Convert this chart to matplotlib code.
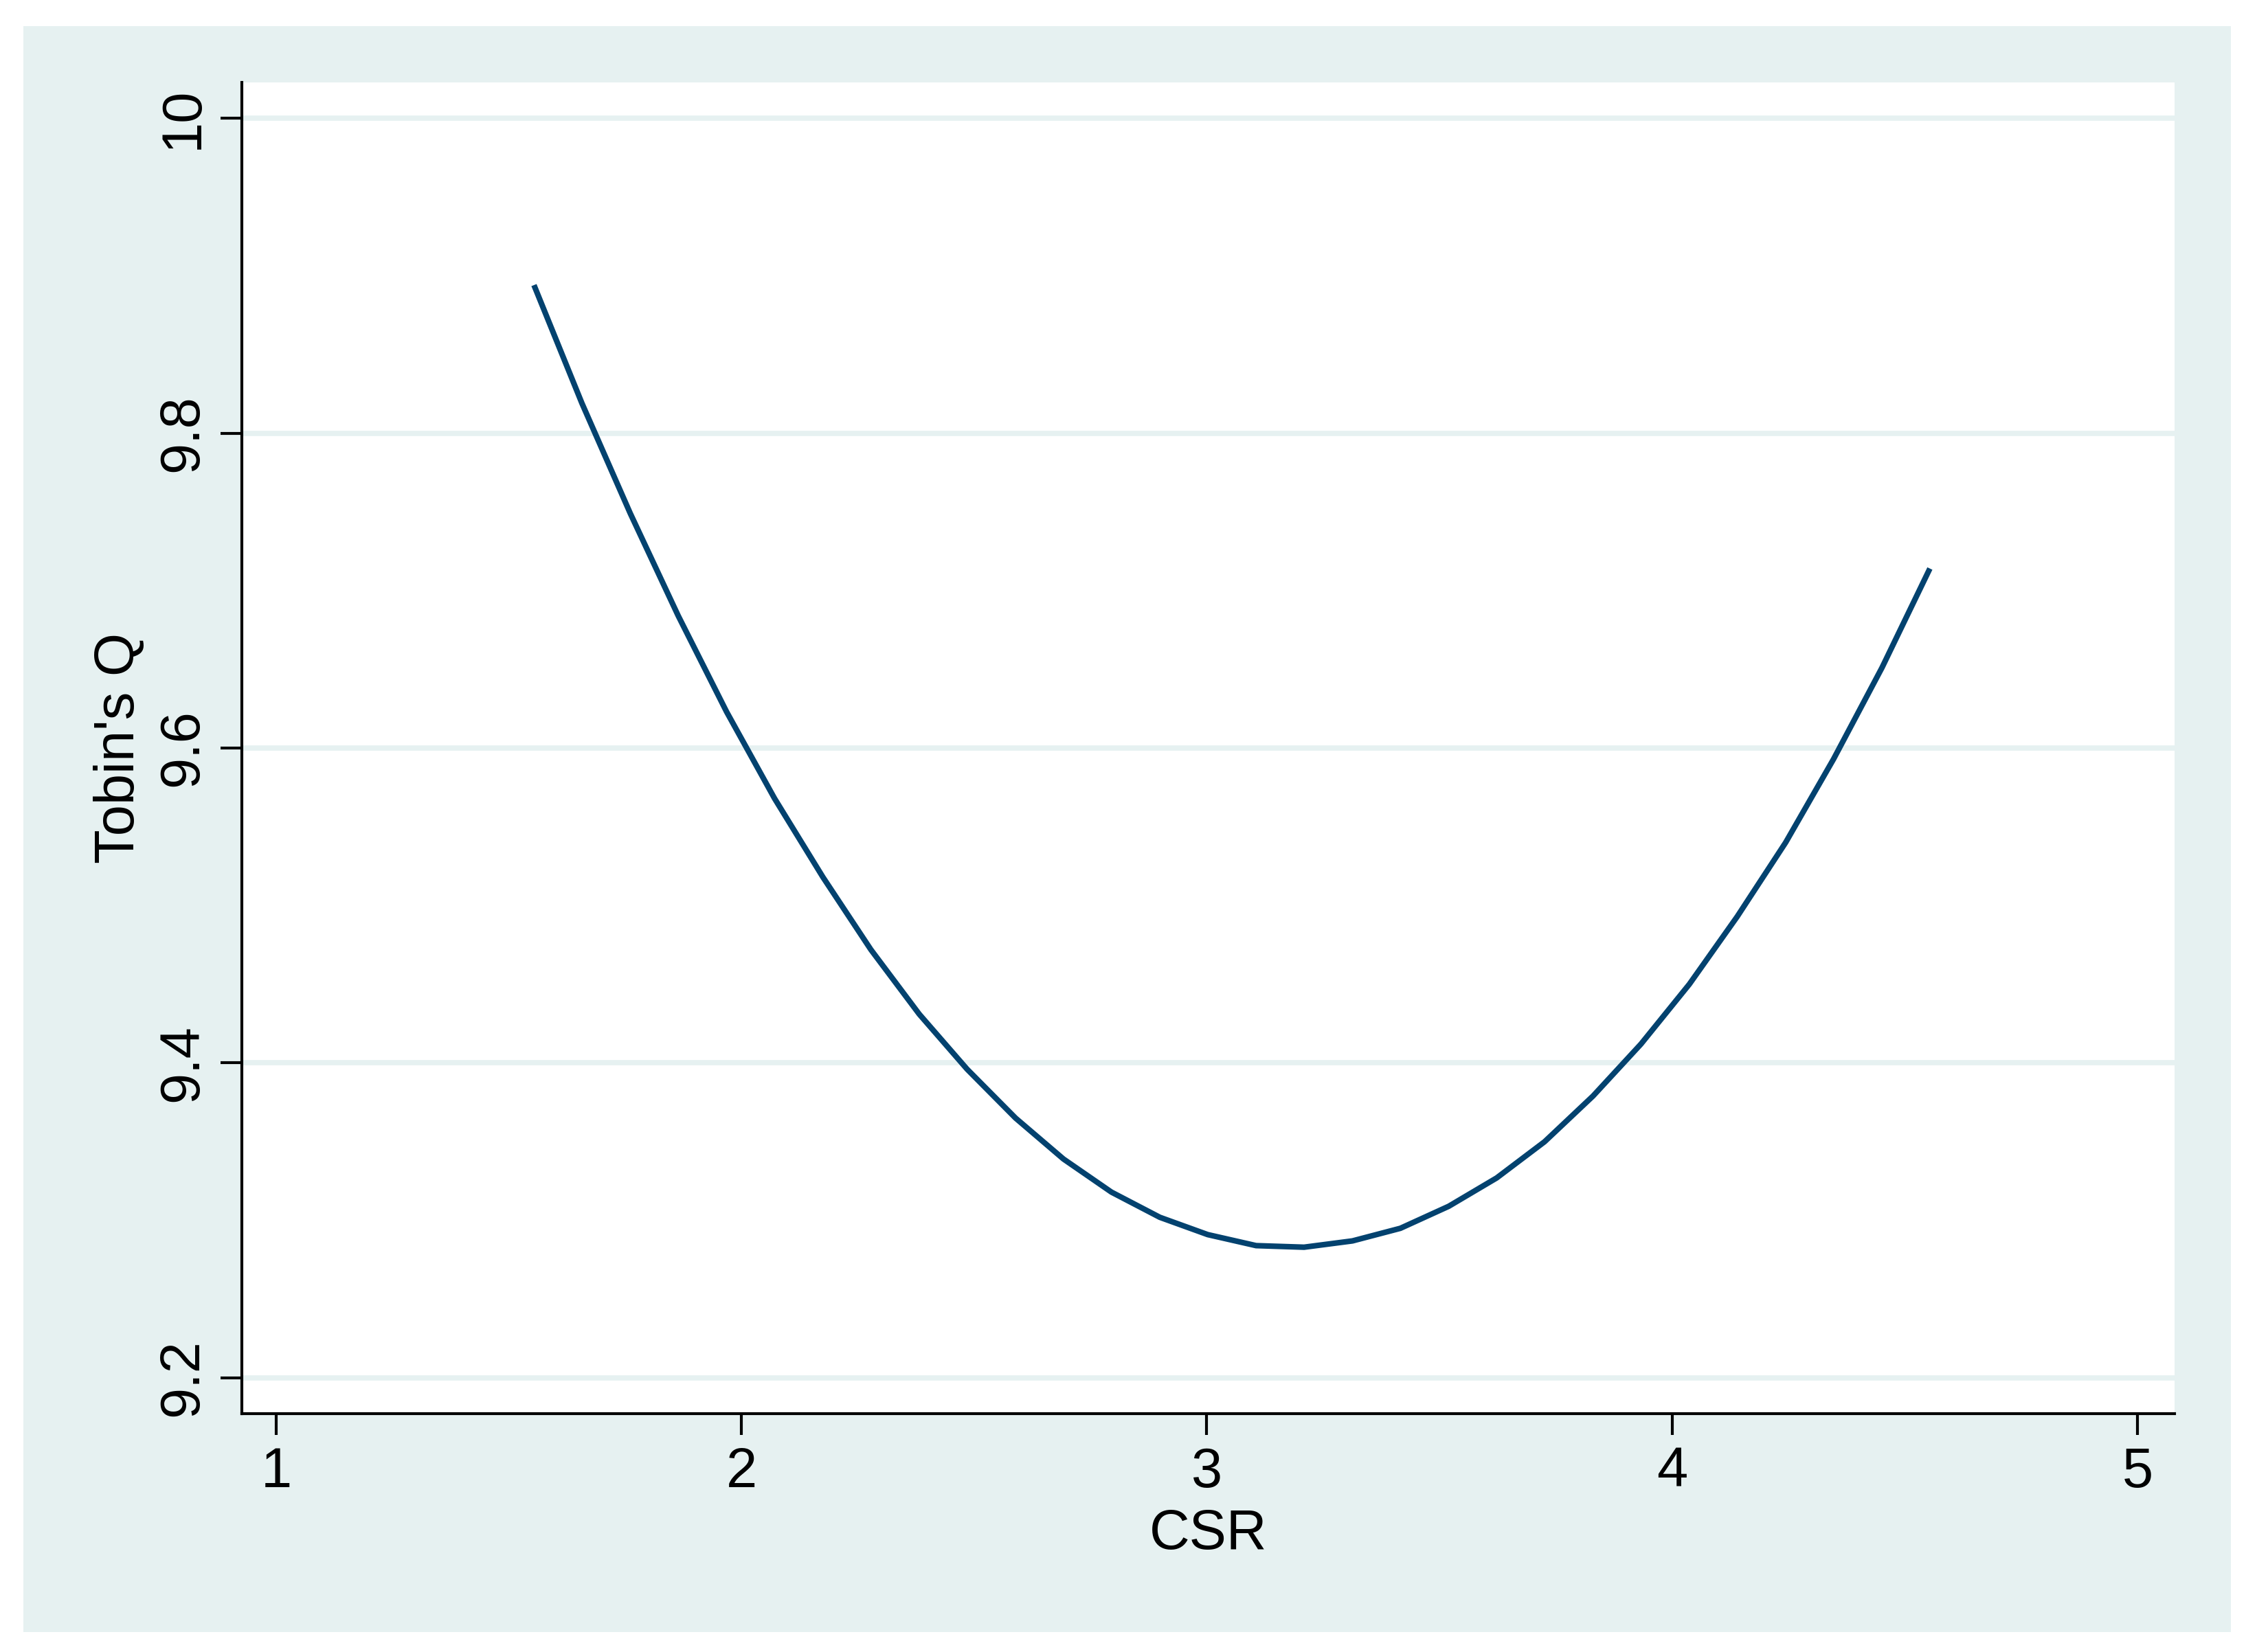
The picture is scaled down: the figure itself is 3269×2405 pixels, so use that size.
import matplotlib
matplotlib.use("Agg")
import matplotlib.pyplot as plt
from matplotlib.patches import Rectangle

# Data
csr = [1.554, 1.657, 1.761, 1.864, 1.968, 2.071, 2.175, 2.278, 2.382, 2.485,
       2.589, 2.692, 2.795, 2.899, 3.002, 3.106, 3.209, 3.313, 3.416, 3.520,
       3.623, 3.726, 3.830, 3.933, 4.037, 4.140, 4.244, 4.347, 4.451, 4.554]
tobins_q = [9.894, 9.819, 9.749, 9.684, 9.623, 9.568, 9.518, 9.472, 9.431, 9.396,
            9.365, 9.339, 9.318, 9.302, 9.291, 9.284, 9.283, 9.287, 9.295, 9.309,
            9.327, 9.350, 9.379, 9.412, 9.450, 9.493, 9.540, 9.593, 9.651, 9.714]
x_ticks = [1, 2, 3, 4, 5]
y_ticks = [9.2, 9.4, 9.6, 9.8, 10.0]
y_tick_labels = ["9.2", "9.4", "9.6", "9.8", "10"]
x_label = "CSR"
y_label = "Tobin's Q"

W, H, DPI = 3269, 2405, 300
BG = "#E6F1F1"
LINE = "#03426F"

plt.rcParams['font.family'] = ['Liberation Sans', 'DejaVu Sans']

fig = plt.figure(figsize=(W / DPI, H / DPI), dpi=DPI, facecolor="white")
fig.patches.append(Rectangle((34 / W, (H - 2376) / H), (3247 - 34) / W, (2376 - 38) / H,
                             transform=fig.transFigure, facecolor=BG, edgecolor="none", zorder=0))

ax = fig.add_axes([352 / W, (H - 2058) / H, (3165 - 352) / W, (2058 - 120) / H])
ax.set_facecolor("white")
ax.set_zorder(1)

ax.plot(csr, tobins_q, color=LINE, lw=1.95, solid_capstyle="butt", solid_joinstyle="miter", zorder=3)

ax.set_xlim(0.9262, 5.0798)
ax.set_ylim(9.1773, 10.0227)
ax.set_xticks(x_ticks)
ax.set_xticklabels([str(t) for t in x_ticks])
ax.set_yticks(y_ticks)
ax.set_yticklabels(y_tick_labels, rotation=90, va="center")

ax.grid(axis="y", color=BG, lw=1.85, zorder=1)
ax.set_axisbelow(True)

for s in ["top", "right"]:
    ax.spines[s].set_visible(False)
for s in ["left", "bottom"]:
    ax.spines[s].set_linewidth(1.0)
    ax.spines[s].set_color("black")

ax.tick_params(axis="both", length=7.4, width=1.0, color="black", labelsize=19.5, pad=4)

ax.set_xlabel(x_label, fontsize=19.5, labelpad=3.5)
ax.set_ylabel(y_label, fontsize=19.5, labelpad=4.0)

fig.savefig("out.png", dpi=DPI, facecolor="white")
